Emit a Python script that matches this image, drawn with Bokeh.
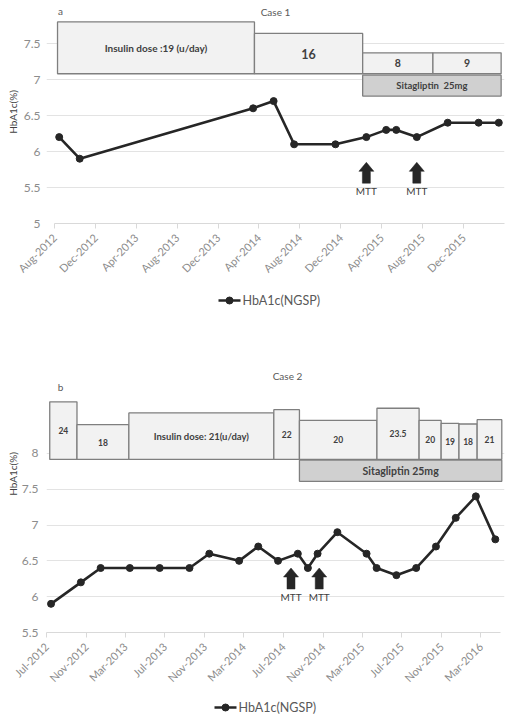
import numpy as np
import pandas as pd
from bokeh.plotting import figure
from bokeh.layouts import column
from bokeh.models import (Range1d, FixedTicker, DatetimeTickFormatter,
                          ColumnDataSource, CustomJSTickFormatter)
from bokeh.core.properties import value
from bokeh.embed import file_html
from bokeh.resources import INLINE

# ---------------- Case 1 data ----------------
c1_dates = ["2012-08-15", "2012-10-15", "2014-03-15", "2014-05-15", "2014-07-15", "2014-11-15",
            "2015-02-15", "2015-04-15", "2015-05-15", "2015-07-15", "2015-10-15", "2016-01-15",
            "2016-03-15"]
c1_hba1c = [6.2, 5.9, 6.6, 6.7, 6.1, 6.1, 6.2, 6.3, 6.3, 6.2, 6.4, 6.4, 6.4]
c1_box_start = ["2012-08-10", "2014-03-19", "2015-02-04", "2015-09-01"]
c1_box_end = ["2014-03-19", "2015-02-04", "2015-09-01", "2016-03-22"]
c1_box_top = [7.80, 7.64, 7.37, 7.37]
c1_box_bottom = [7.08, 7.08, 7.08, 7.08]
c1_box_text = ["Insulin dose :19 (u/day)", "16", "8", "9"]
c1_sita_start = ["2015-02-04"]
c1_sita_end = ["2016-03-22"]
c1_sita_top = [7.06]
c1_sita_bottom = [6.77]
c1_sita_text = ["Sitagliptin\u00a0\u00a025mg"]
c1_mtt_dates = ["2015-02-15", "2015-07-15"]
c1_mtt_tip = 5.85
c1_mtt_base = 5.56
c1_mtt_label_y = 5.45
c1_yticks = [5, 5.5, 6, 6.5, 7, 7.5]
c1_xstart, c1_xend = "2012-08-01", "2016-04-01"
c1_last_label = "2015-12-01"

# ---------------- Case 2 data ----------------
c2_dates = ["2012-07-15", "2012-10-15", "2012-12-15", "2013-03-15", "2013-06-15", "2013-09-15",
            "2013-11-15", "2014-02-15", "2014-04-15", "2014-06-15", "2014-08-15", "2014-09-15",
            "2014-10-15", "2014-12-15", "2015-03-15", "2015-04-15", "2015-06-15", "2015-08-15",
            "2015-10-15", "2015-12-15", "2016-02-15", "2016-04-15"]
c2_hba1c = [5.9, 6.2, 6.4, 6.4, 6.4, 6.4, 6.6, 6.5, 6.7, 6.5, 6.6, 6.4, 6.6, 6.9, 6.6, 6.4,
            6.3, 6.4, 6.7, 7.1, 7.4, 6.8]
c2_box_start = ["2012-07-11", "2012-10-03", "2013-03-12", "2014-06-02", "2014-08-20",
                "2015-04-16", "2015-08-24", "2015-10-31", "2015-12-25", "2016-02-19"]
c2_box_end = ["2012-10-03", "2013-03-12", "2014-06-02", "2014-08-20", "2015-04-16",
              "2015-08-24", "2015-10-31", "2015-12-25", "2016-02-19", "2016-05-05"]
c2_box_top = [8.72, 8.40, 8.565, 8.61, 8.46, 8.63, 8.46, 8.42, 8.41, 8.47]
c2_box_bottom = [7.915] * 10
c2_box_text = ["24", "18", "Insulin dose: 21(u/day)", "22", "20", "23.5", "20", "19", "18", "21"]
c2_sita_start = ["2014-08-20"]
c2_sita_end = ["2016-05-05"]
c2_sita_top = [7.905]
c2_sita_bottom = [7.61]
c2_sita_text = ["Sitagliptin 25mg"]
c2_mtt_dates = ["2014-07-25", "2014-10-20"]
c2_mtt_tip = 6.40
c2_mtt_base = 6.107
c2_mtt_label_y = 5.99
c2_yticks = [5.5, 6, 6.5, 7, 7.5, 8]
c2_xstart, c2_xend = "2012-07-01", "2016-05-01"
c2_last_label = "2016-03-01"

legend_label = "HbA1c(NGSP)"

# styles (kept apart from the data)
c1_box_fonts = ["10px", "12.5px", "10.5px", "10.5px"]
c2_box_fonts = ["8.5px", "8.5px", "9.5px", "8.5px", "8.5px", "8.5px", "8.5px", "8.5px", "8.5px", "8.5px"]
FONT = "Lato"
LINE_COLOR = "#262626"
TEXT_DARK = "#404040"
TICK_GRAY = "#8c8c8c"
LINE_W = 2.6
MARKER_SIZE = 7
WIDTH = 505
LEFT = 46     # common frame borders (the column aligns the frames)
RIGHT = 1


def ms(dates):
    return [pd.Timestamp(d).value / 1e6 for d in dates]


def make_case(name, letter, dates, vals, bstart, bend, btop, bbot, btext, bfonts,
              sstart, send, stop, sbot, stext, sfont,
              mtt_dates, mtt_tip, mtt_base, mtt_label_y, yticks, xstart, xend, last_label,
              height, axis_px0, axis_px1, bottom_border, y_start, px_per_unit,
              title_px, title_y, letter_px, letter_y, ylab_standoff, ylabel_standoff):
    frame_w = WIDTH - LEFT - RIGHT
    frame_h = height - bottom_border
    y_end = y_start + frame_h / px_per_unit
    xs0, xs1 = ms([xstart])[0], ms([xend])[0]
    px_per_ms = (axis_px1 - axis_px0) / (xs1 - xs0)
    x0 = xs0 - (axis_px0 - LEFT) / px_per_ms
    x1 = xs1 + (LEFT + frame_w - axis_px1) / px_per_ms
    p = figure(width=WIDTH, height=height, output_backend="svg",
               toolbar_location=None, x_axis_type="datetime",
               x_range=Range1d(x0, x1), y_range=Range1d(y_start, y_end),
               min_border_left=LEFT, min_border_right=RIGHT, min_border_top=0,
               min_border_bottom=bottom_border, background_fill_color="white",
               border_fill_color="white", outline_line_color=None)

    # axes
    ticks = ms(pd.date_range(xstart, last_label, freq="4MS").strftime("%Y-%m-%d"))
    p.xaxis.ticker = FixedTicker(ticks=ticks)
    p.xaxis.bounds = (xs0, xs1)
    p.xaxis.formatter = DatetimeTickFormatter(days="%b-%Y", months="%b-%Y", years="%b-%Y")
    p.xaxis.major_label_orientation = np.pi / 4
    p.xaxis.axis_line_color = "#d9d9d9"
    p.xaxis.major_tick_line_color = "#d9d9d9"
    p.xaxis.major_tick_out = 5
    p.xaxis.major_tick_in = 0
    p.xaxis.minor_tick_line_color = None
    p.xaxis.major_label_text_font = FONT
    p.xaxis.major_label_text_font_size = "11px"
    p.xaxis.major_label_text_color = TICK_GRAY
    p.xaxis.major_label_standoff = 7

    p.yaxis.ticker = FixedTicker(ticks=yticks)
    p.yaxis.formatter = CustomJSTickFormatter(code="return tick.toString()")
    p.yaxis.axis_line_color = None
    p.yaxis.major_tick_line_color = None
    p.yaxis.minor_tick_line_color = None
    p.yaxis.major_tick_out = 0
    p.yaxis.major_label_standoff = ylab_standoff
    p.yaxis.major_label_text_font = FONT
    p.yaxis.major_label_text_font_size = "12px"
    p.yaxis.major_label_text_color = TICK_GRAY
    p.yaxis.axis_label = "HbA1c(%)"
    p.yaxis.axis_label_text_font = FONT
    p.yaxis.axis_label_text_font_size = "10px"
    p.yaxis.axis_label_text_font_style = "normal"
    p.yaxis.axis_label_text_color = TEXT_DARK
    p.yaxis.axis_label_standoff = ylabel_standoff

    p.xgrid.grid_line_color = None
    p.ygrid.grid_line_color = "#e3e3e3"
    p.ygrid.grid_line_width = 1
    p.ygrid.bounds = (xs0, xs1)

    # dose boxes
    bsrc = ColumnDataSource(dict(left=ms(bstart), right=ms(bend), top=btop, bottom=bbot,
                                 text=btext, fs=bfonts,
                                 xc=[(a + b) / 2 for a, b in zip(ms(bstart), ms(bend))],
                                 yc=[(a + b) / 2 for a, b in zip(btop, bbot)]))
    p.quad(left="left", right="right", top="top", bottom="bottom", source=bsrc,
           fill_color="#f2f2f2", line_color="#7f7f7f", line_width=1.3)
    p.text(x="xc", y="yc", text="text", source=bsrc, text_align="center",
           text_baseline="middle", text_font=value(FONT), text_font_style="bold",
           text_font_size="fs", text_color=TEXT_DARK)

    ssrc = ColumnDataSource(dict(left=ms(sstart), right=ms(send), top=stop, bottom=sbot,
                                 text=stext,
                                 xc=[(a + b) / 2 for a, b in zip(ms(sstart), ms(send))],
                                 yc=[(a + b) / 2 for a, b in zip(stop, sbot)]))
    p.quad(left="left", right="right", top="top", bottom="bottom", source=ssrc,
           fill_color="#d0d0d0", line_color="#7f7f7f", line_width=1.3)
    p.text(x="xc", y="yc", text="text", source=ssrc, text_align="center",
           text_baseline="middle", text_font=value(FONT), text_font_style="bold",
           text_font_size=sfont, text_color=TEXT_DARK)

    # data line
    dsrc = ColumnDataSource(dict(x=ms(dates), y=vals))
    p.line("x", "y", source=dsrc, line_color=LINE_COLOR, line_width=LINE_W)
    p.scatter("x", "y", source=dsrc, size=MARKER_SIZE, marker="circle",
              fill_color=LINE_COLOR, line_color=LINE_COLOR)

    # MTT arrows
    head_h = 9 / px_per_unit
    head_hw = 7.5 / px_per_ms
    shaft_hw = 4 / px_per_ms
    axs, ays = [], []
    for xm in ms(mtt_dates):
        neck = mtt_tip - head_h
        axs.append([xm, xm + head_hw, xm + shaft_hw, xm + shaft_hw, xm - shaft_hw,
                    xm - shaft_hw, xm - head_hw])
        ays.append([mtt_tip, neck, neck, mtt_base, mtt_base, neck, neck])
    p.patches(axs, ays, fill_color=LINE_COLOR, line_color=LINE_COLOR, line_width=0.5)
    p.text(x=ms(mtt_dates), y=[mtt_label_y] * len(mtt_dates), text=["MTT"] * len(mtt_dates),
           text_align="center", text_baseline="middle", text_font=value(FONT),
           text_font_size="10px", text_color=TEXT_DARK)

    # titles
    def px_to_x(px):
        return x0 + (px - LEFT) / px_per_ms

    p.text(x=[px_to_x(title_px)], y=[title_y], text=[name], text_align="center",
           text_baseline="middle", text_font=value(FONT), text_font_size="10px",
           text_color="#595959")
    p.text(x=[px_to_x(letter_px)], y=[letter_y], text=[letter], text_align="center",
           text_baseline="middle", text_font=value(FONT), text_font_size="10px",
           text_color="#595959")
    return p


def make_legend(height, glyph_left, glyph_w=22):
    # a strip below each chart carrying the series key (pixel-scaled ranges)
    lp = figure(width=WIDTH, height=height, output_backend="svg", toolbar_location=None,
                x_range=Range1d(LEFT, WIDTH - RIGHT), y_range=Range1d(0, height),
                x_axis_location=None, y_axis_location=None,
                min_border_left=LEFT, min_border_right=RIGHT, min_border_top=0,
                min_border_bottom=0, outline_line_color=None,
                background_fill_color="white", border_fill_color="white")
    lp.xgrid.visible = False
    lp.ygrid.visible = False
    yc = height / 2
    lp.line([glyph_left, glyph_left + glyph_w], [yc, yc], line_color=LINE_COLOR,
            line_width=LINE_W)
    lp.scatter([glyph_left + glyph_w / 2], [yc], size=MARKER_SIZE, marker="circle",
               fill_color=LINE_COLOR, line_color=LINE_COLOR)
    lp.text([glyph_left + glyph_w + 2], [yc], text=[legend_label], text_align="left",
            text_baseline="middle", text_font=value(FONT), text_font_size="12.5px",
            text_color="#595959")
    return lp


p1 = make_case("Case 1", "a", c1_dates, c1_hba1c, c1_box_start, c1_box_end, c1_box_top,
               c1_box_bottom, c1_box_text, c1_box_fonts, c1_sita_start, c1_sita_end,
               c1_sita_top, c1_sita_bottom, c1_sita_text, "9.5px",
               c1_mtt_dates, c1_mtt_tip, c1_mtt_base, c1_mtt_label_y, c1_yticks,
               c1_xstart, c1_xend, c1_last_label, height=285, axis_px0=54, axis_px1=504,
               bottom_border=62, y_start=5, px_per_unit=72,
               title_px=275, title_y=7.944, letter_px=60, letter_y=7.958,
               ylab_standoff=6, ylabel_standoff=2)
l1 = make_legend(30, 218)

p2 = make_case("Case 2", "b", c2_dates, c2_hba1c, c2_box_start, c2_box_end, c2_box_top,
               c2_box_bottom, c2_box_text, c2_box_fonts, c2_sita_start, c2_sita_end,
               c2_sita_top, c2_sita_bottom, c2_sita_text, "10.5px",
               c2_mtt_dates, c2_mtt_tip, c2_mtt_base, c2_mtt_label_y, c2_yticks,
               c2_xstart, c2_xend, c2_last_label, height=379, axis_px0=46, axis_px1=500,
               bottom_border=62, y_start=5.5, px_per_unit=71.65,
               title_px=287, title_y=9.082, letter_px=60, letter_y=8.928,
               ylab_standoff=8, ylabel_standoff=0)
l2 = make_legend(26, 214)

layout = column(p1, l1, p2, l2, spacing=0)
open("out.html", "w").write(file_html(layout, INLINE))
